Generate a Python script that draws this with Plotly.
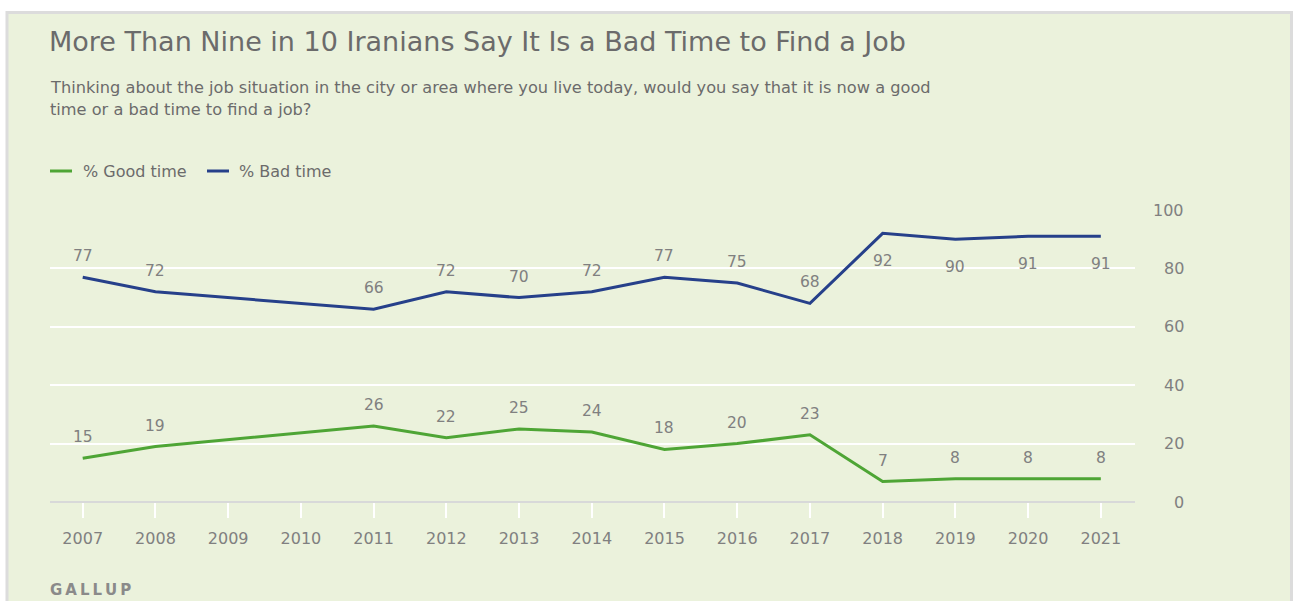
import plotly.graph_objects as go

years = [2007, 2008, 2009, 2010, 2011, 2012, 2013, 2014, 2015, 2016, 2017, 2018, 2019, 2020, 2021]
good_time = [15, 19, None, None, 26, 22, 25, 24, 18, 20, 23, 7, 8, 8, 8]
bad_time = [77, 72, None, None, 66, 72, 70, 72, 77, 75, 68, 92, 90, 91, 91]
series_names = ["% Good time", "% Bad time"]
y_ticks = [0, 20, 40, 60, 80, 100]

title = "More Than Nine in 10 Iranians Say It Is a Bad Time to Find a Job"
subtitle1 = "Thinking about the job situation in the city or area where you live today, would you say that it is now a good"
subtitle2 = "time or a bad time to find a job?"
source = "GALLUP"

GREEN = "#4ea535"
BLUE = "#26408a"
BG = "#ebf2dc"
TXT = "#6b6b6b"
LBL = "#808080"
FONT = "DejaVu Sans"

W, H = 1293, 601
L, R, T, B = 50, 1135, 210, 502   # plot area in page pixels

def px(x):
    return (x - L) / (R - L)

def py(y):
    return (B - y) / (B - T)

fig = go.Figure()
fig.add_trace(go.Scatter(x=years, y=good_time, mode="lines", name=series_names[0],
                         line=dict(color=GREEN, width=3), connectgaps=True, showlegend=False,
                         cliponaxis=False))
fig.add_trace(go.Scatter(x=years, y=bad_time, mode="lines", name=series_names[1],
                         line=dict(color=BLUE, width=3), connectgaps=True, showlegend=False,
                         cliponaxis=False))

annotations = []
shapes = []

# panel background and border
shapes.append(dict(type="rect", xref="paper", yref="paper",
                   x0=px(7), x1=px(1291.5), y0=py(640), y1=py(12.5),
                   fillcolor=BG, line=dict(color="#dcdcdc", width=3), layer="below"))

# data labels
for yr, v in zip(years, good_time):
    if v is None:
        continue
    annotations.append(dict(x=yr, y=v, xref="x", yref="y", text=str(v), showarrow=False,
                            yshift=21, font=dict(family=FONT, size=15.5, color=LBL)))
for yr, v in zip(years, bad_time):
    if v is None:
        continue
    shift = -28 if yr >= 2018 else 21
    annotations.append(dict(x=yr, y=v, xref="x", yref="y", text=str(v), showarrow=False,
                            yshift=shift, font=dict(family=FONT, size=15.5, color=LBL)))

# y tick labels on the right, right-aligned
for t in y_ticks:
    annotations.append(dict(x=px(1186), y=t, xref="paper", yref="y", text=str(t), showarrow=False,
                            xanchor="right", yanchor="middle",
                            font=dict(family=FONT, size=16, color=LBL)))

# title, subtitle, source
annotations.append(dict(x=px(47), y=py(41), xref="paper", yref="paper", text=title, showarrow=False,
                        xanchor="left", yanchor="middle", font=dict(family=FONT, size=27, color=TXT)))
annotations.append(dict(x=px(48), y=py(87), xref="paper", yref="paper", text=subtitle1, showarrow=False,
                        xanchor="left", yanchor="middle", font=dict(family=FONT, size=16.2, color=TXT)))
annotations.append(dict(x=px(48), y=py(110), xref="paper", yref="paper", text=subtitle2, showarrow=False,
                        xanchor="left", yanchor="middle", font=dict(family=FONT, size=16.2, color=TXT)))
annotations.append(dict(x=px(48), y=py(590), xref="paper", yref="paper",
                        text="<b>" + "\u2009".join(source) + "</b>",
                        showarrow=False, xanchor="left", yanchor="middle",
                        font=dict(family=FONT, size=15, color="#8a8a8a")))

# legend
leg = [(series_names[0], GREEN, 50, 81), (series_names[1], BLUE, 207, 237)]
for name, col, lx, tx in leg:
    shapes.append(dict(type="line", xref="paper", yref="paper", x0=px(lx), x1=px(lx + 22),
                       y0=py(171), y1=py(171), line=dict(color=col, width=3)))
    annotations.append(dict(x=px(tx), y=py(171), xref="paper", yref="paper", text=name, showarrow=False,
                            xanchor="left", yanchor="middle", font=dict(family=FONT, size=16, color=TXT)))

fig.update_layout(
    width=W, height=H,
    margin=dict(l=L, r=W - R, t=T, b=H - B, pad=0),
    paper_bgcolor="white", plot_bgcolor="rgba(0,0,0,0)",
    showlegend=False,
    annotations=annotations, shapes=shapes,
    xaxis=dict(range=[2006.55, 2021.47], tickvals=years, ticktext=[str(y) for y in years],
               showgrid=False, zeroline=False, showline=False,
               ticks="outside", ticklen=15, tickwidth=2, tickcolor="white",
               ticklabelstandoff=7,
               tickfont=dict(family=FONT, size=16, color=LBL), fixedrange=True),
    yaxis=dict(range=[0, 100], tickvals=y_ticks, showticklabels=False,
               showgrid=True, gridcolor="white", gridwidth=2,
               zeroline=True, zerolinecolor="#d8d9d9", zerolinewidth=2, showline=False,
               fixedrange=True),
)

fig.write_html("out.html", config={"displayModeBar": False},
               post_script="document.body.style.margin='0px';document.body.style.overflow='hidden';")
